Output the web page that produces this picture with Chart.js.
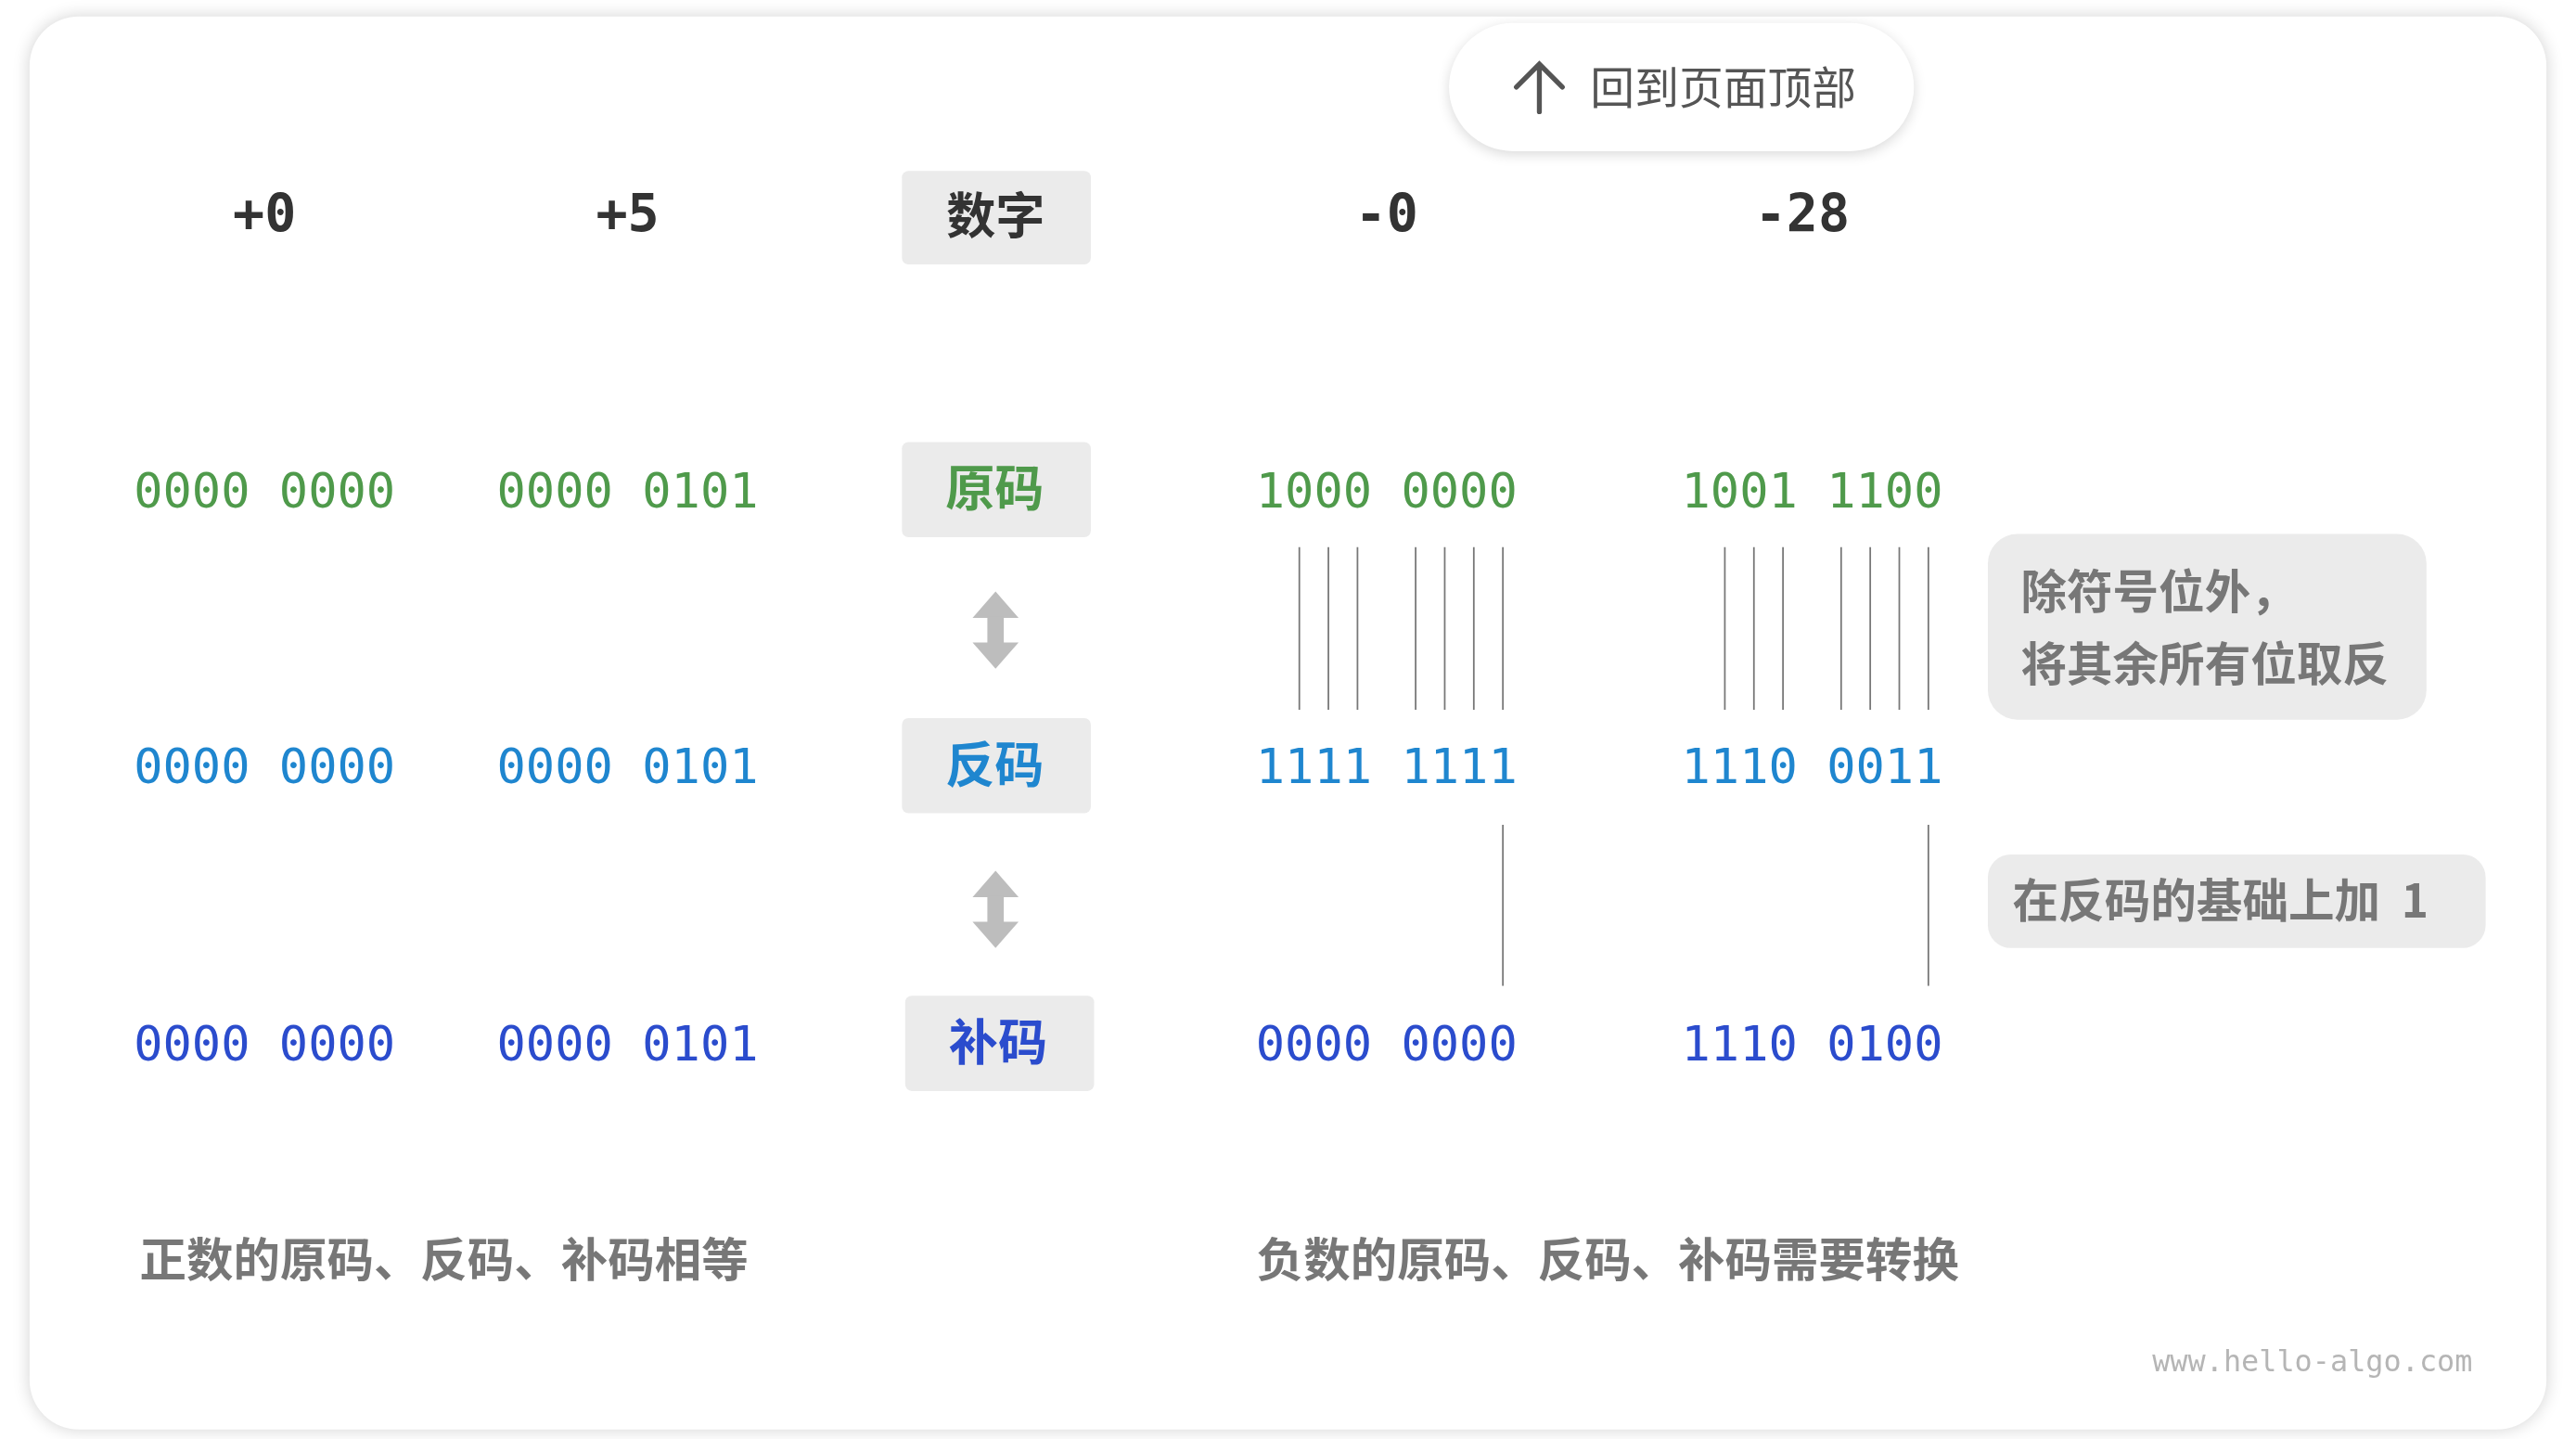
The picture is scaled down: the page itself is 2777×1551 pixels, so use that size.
<!DOCTYPE html>
<html>
<head>
<meta charset="utf-8">
<script src="https://cdn.jsdelivr.net/npm/chart.js@4"></script>
<style>
  html, body { margin: 0; padding: 0; background: #ffffff; }
  #wrap { width: 100vw; height: 100vh; }
</style>
</head>
<body>
<div id="wrap"><canvas id="codeChart"></canvas></div>
<script>
// data
const numbers = ["+0", "+5", "-0", "-28"]
const rowNames = ["原码", "反码", "补码"]
const trueCode = ["0000 0000", "0000 0101", "1000 0000", "1001 1100"]
const onesCode = ["0000 0000", "0000 0101", "1111 1111", "1110 0011"]
const twosCode = ["0000 0000", "0000 0101", "0000 0000", "1110 0100"]
const notes = ["除符号位外，", "将其余所有位取反"]
const addNote = "在反码的基础上加  1"
const captions = ["正数的原码、反码、补码相等", "负数的原码、反码、补码需要转换"]

// layout (reference units, 1568 wide)
const W = 1568, H = 875.8
const colX = [161, 382, 844, 1103]
const headerX = [161, 382, 844, 1097]
const labelX = 606
const rowY = [298, 466, 635]
const headerY = 130
const rowColors = ["#4f9a4b", "#1f86cf", "#2b4ccd"]
const charW = 17.7

const points = []
numbers.forEach((n, i) => points.push({ x: headerX[i], y: headerY + 3 }))

const drawer = {
  id: "drawer",
  beforeDatasetsDraw(chart) {
    const ctx = chart.ctx
    const sx = chart.scales.x, sy = chart.scales.y
    const X = v => sx.getPixelForValue(v)
    const Y = v => sy.getPixelForValue(v)
    const k = chart.width / W
    const cjk = "'Noto Sans CJK SC', 'Noto Sans', sans-serif"
    const mono = "'DejaVu Sans Mono', 'Liberation Mono', monospace"

    function rr(x0, y0, x1, y1, r, fill) {
      ctx.beginPath()
      ctx.roundRect(X(x0), Y(y0), X(x1) - X(x0), Y(y1) - Y(y0), r * k)
      ctx.fillStyle = fill
      ctx.fill()
    }
    function text(t, x, y, font, color, align) {
      ctx.font = font
      ctx.fillStyle = color
      ctx.textAlign = align || "center"
      ctx.textBaseline = "middle"
      ctx.fillText(t, X(x), Y(y))
    }
    function vline(x, y0, y1) {
      ctx.beginPath()
      ctx.moveTo(X(x), Y(y0))
      ctx.lineTo(X(x), Y(y1))
      ctx.strokeStyle = "#777"
      ctx.lineWidth = 1 * k
      ctx.stroke()
    }

    // card
    ctx.save()
    ctx.shadowColor = "rgba(0,0,0,0.18)"
    ctx.shadowBlur = 10 * k
    rr(18, 10, 1550, 870, 30, "#ffffff")
    ctx.restore()

    // back-to-top button
    ctx.save()
    ctx.shadowColor = "rgba(0,0,0,0.15)"
    ctx.shadowBlur = 8 * k
    ctx.shadowOffsetY = 2 * k
    rr(882, 14, 1165, 92, 39, "#ffffff")
    ctx.restore()
    ctx.beginPath()
    ctx.moveTo(X(937), Y(68)); ctx.lineTo(X(937), Y(39))
    ctx.moveTo(X(923), Y(53)); ctx.lineTo(X(937), Y(39)); ctx.lineTo(X(951), Y(53))
    ctx.strokeStyle = "#555"; ctx.lineWidth = 3 * k; ctx.lineCap = "round"; ctx.stroke()
    ctx.lineCap = "butt"
    text("回到页面顶部", 968, 53, `${27 * k}px ${cjk}`, "#555", "left")

    // row label boxes
    rr(549, 104, 664, 161, 4, "#ebebeb")
    text("数字", 606, 131, `bold ${30 * k}px ${cjk}`, "#333")
    const boxX = [[549, 664], [549, 664], [551, 666]]
    rowNames.forEach((r, i) => {
      rr(boxX[i][0], rowY[i] - 29, boxX[i][1], rowY[i] + 29, 4, "#ebebeb")
      text(r, (boxX[i][0] + boxX[i][1]) / 2 - 1, rowY[i] - 1, `bold ${30 * k}px ${cjk}`, rowColors[i])
    })

    // double arrows
    ;[[360, 407], [530, 577]].forEach(([a, b]) => {
      ctx.fillStyle = "#bdbdbd"
      ctx.beginPath()
      ctx.moveTo(X(labelX), Y(a)); ctx.lineTo(X(labelX + 14), Y(a + 16)); ctx.lineTo(X(labelX - 14), Y(a + 16))
      ctx.closePath(); ctx.fill()
      ctx.beginPath()
      ctx.moveTo(X(labelX), Y(b)); ctx.lineTo(X(labelX + 14), Y(b - 16)); ctx.lineTo(X(labelX - 14), Y(b - 16))
      ctx.closePath(); ctx.fill()
      ctx.fillRect(X(labelX - 5), Y(a + 15), 10 * k, Y(b - 15) - Y(a + 15))
    })

    // binary values
    const rows = [trueCode, onesCode, twosCode]
    rows.forEach((vals, r) => vals.forEach((v, c) =>
      text(v, colX[c], rowY[r] + 3, `${29.4 * k}px ${mono}`, rowColors[r])))

    // connectors for negative numbers
    ;[2, 3].forEach(c => {
      const left = colX[c] - charW * 4.5
      ;[1, 2, 3, 5, 6, 7, 8].forEach(i => vline(left + charW * (i + 0.5), 333, 432))
      vline(left + charW * 8.5, 502, 600)
    })

    // notes
    rr(1210, 325, 1477, 438, 18, "#ebebeb")
    text(notes[0], 1230, 360, `bold ${28 * k}px ${cjk}`, "#777", "left")
    text(notes[1], 1230, 404, `bold ${28 * k}px ${cjk}`, "#777", "left")
    rr(1210, 520, 1513, 577, 14, "#ebebeb")
    text(addNote, 1225, 548, `bold ${28 * k}px ${cjk}`, "#777", "left")

    // captions
    text(captions[0], 85, 766, `bold ${28.5 * k}px ${cjk}`, "#777", "left")
    text(captions[1], 765, 766, `bold ${28.5 * k}px ${cjk}`, "#777", "left")
    text("www.hello-algo.com", 1505, 830, `${18 * k}px ${mono}`, "#b5b5b5", "right")
  },
  afterDatasetsDraw(chart) {
    const ctx = chart.ctx
    const k = chart.width / W
    const meta = chart.getDatasetMeta(0)
    meta.data.forEach((p, i) => {
      ctx.font = `bold ${32 * k}px 'DejaVu Sans Mono', monospace`
      ctx.fillStyle = "#333"
      ctx.textAlign = "center"
      ctx.textBaseline = "middle"
      ctx.fillText(numbers[i], p.x, p.y)
    })
  }
}

new Chart(document.getElementById("codeChart"), {
  type: "scatter",
  data: { datasets: [{ data: points, pointRadius: 0 }] },
  options: {
    responsive: true,
    maintainAspectRatio: false,
    animation: false,
    layout: { padding: 0 },
    plugins: { legend: { display: false }, tooltip: { enabled: false } },
    scales: {
      x: { type: "linear", min: 0, max: W, display: false },
      y: { type: "linear", min: 0, max: H, reverse: true, display: false }
    }
  },
  plugins: [drawer]
})
</script>
</body>
</html>
